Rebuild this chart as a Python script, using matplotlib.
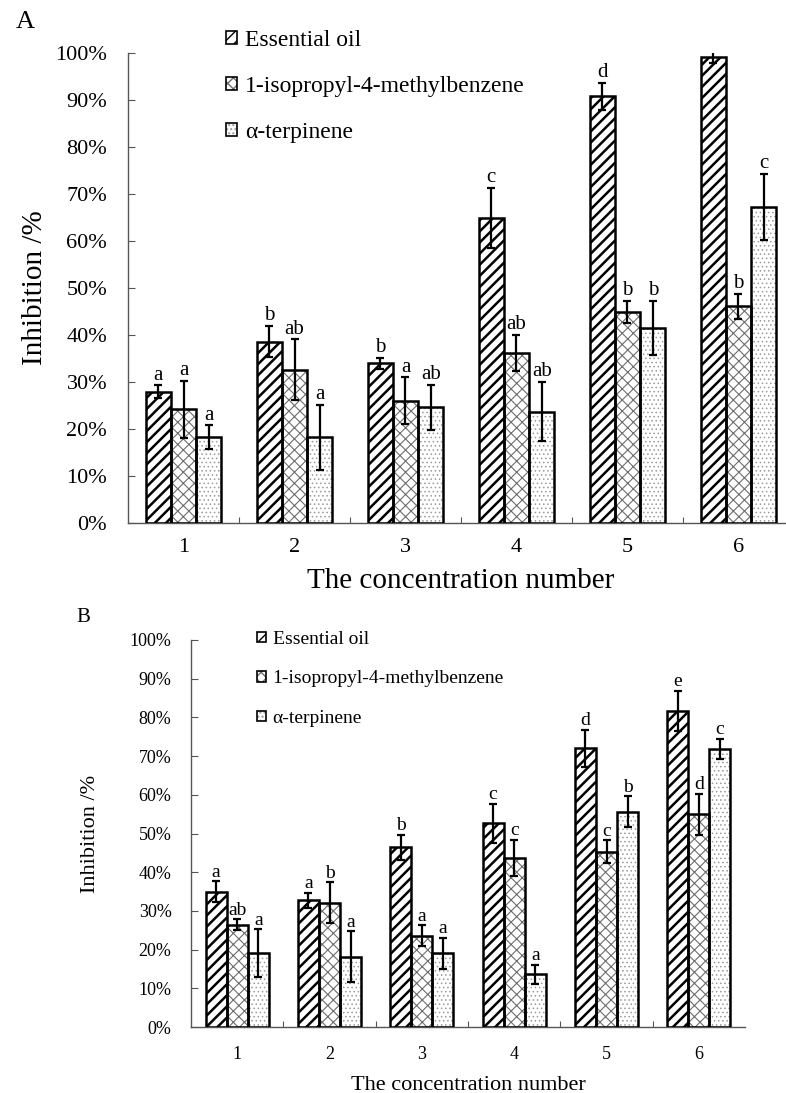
import matplotlib
matplotlib.use('Agg')
import matplotlib.pyplot as plt
from matplotlib.patches import Patch
from matplotlib.ticker import FuncFormatter, FixedLocator
import numpy as np

plt.rcParams['font.family'] = ['Liberation Serif', 'DejaVu Serif']

# data (inhibition %)
conc = ['1', '2', '3', '4', '5', '6']
series = ['Essential oil', '1-isopropyl-4-methylbenzene', u'\u03b1-terpinene']

a_oil = [27.9, 38.6, 34.0, 64.9, 90.8, 99.2]
a_oil_err = [1.4, 3.3, 1.2, 6.4, 2.9, 1.4]
a_iso = [24.2, 32.6, 26.0, 36.2, 44.9, 46.1]
a_iso_err = [6.1, 6.5, 5.0, 3.9, 2.3, 2.6]
a_terp = [18.3, 18.2, 24.6, 23.7, 41.5, 67.3]
a_terp_err = [2.5, 6.9, 4.8, 6.3, 5.8, 7.0]
a_oil_let = ['a', 'b', 'b', 'c', 'd', 'e']
a_iso_let = ['a', 'ab', 'a', 'ab', 'b', 'b']
a_terp_let = ['a', 'a', 'ab', 'ab', 'b', 'c']

b_oil = [34.9, 32.7, 46.4, 52.6, 72.0, 81.7]
b_oil_err = [2.7, 2.0, 3.2, 5.0, 4.7, 5.2]
b_iso = [26.4, 32.1, 23.6, 43.6, 45.3, 55.0]
b_iso_err = [1.4, 5.3, 2.7, 4.7, 2.9, 5.3]
b_terp = [19.0, 18.2, 19.0, 13.6, 55.6, 71.8]
b_terp_err = [6.2, 6.5, 4.1, 2.4, 4.0, 2.6]
b_oil_let = ['a', 'a', 'b', 'c', 'd', 'e']
b_iso_let = ['ab', 'b', 'a', 'c', 'c', 'd']
b_terp_let = ['a', 'a', 'a', 'a', 'b', 'c']

yticks = [0, 10, 20, 30, 40, 50, 60, 70, 80, 90, 100]

# pattern for each series: hatch, hatch colour, hatch line width
styles = [('///', 'black', 1.8), ('xxx', '#6e6e6e', 0.8), ('....', '#9a9a9a', 0.6)]

W, H = 786, 1093
fig = plt.figure(figsize=(W / 100, H / 100), dpi=100)


def ax_rect(left, right, top, bottom):
    return [left / W, 1 - bottom / H, (right - left) / W, (bottom - top) / H]


def draw_panel(ax, vals, errs, lets, fs_tick, fs_lab, fs_let, fs_leg,
               ylab_x, leg_xy, leg_sp, panel, panel_xy, panel_fs, tpad):
    x = np.arange(len(conc))
    w = 0.228
    handles = []
    for i in range(3):
        hatch, hc, hlw = styles[i]
        pos = x + (i - 1) * w
        bars = ax.bar(pos, vals[i], w, color='white', edgecolor=hc,
                      linewidth=0, hatch=hatch, zorder=2)
        for b in bars:
            try:
                b.set_hatch_linewidth(hlw)
            except AttributeError:
                pass
        ax.bar(pos, vals[i], w, fill=False, edgecolor='black',
               linewidth=1.8, zorder=3)
        ax.errorbar(pos, vals[i], yerr=errs[i], fmt='none', ecolor='black',
                    elinewidth=1.6, capsize=3, capthick=1.6, zorder=4)
        for p, v, e, t in zip(pos, vals[i], errs[i], lets[i]):
            ax.annotate(t, (p, v + e), xytext=(0, 0.5), textcoords='offset points',
                        ha='center', va='bottom', fontsize=fs_let, zorder=5)
        fillp = Patch(facecolor='white', edgecolor=hc, linewidth=0, hatch=hatch)
        outl = Patch(fill=False, edgecolor='black', linewidth=1.2)
        handles.append((fillp, outl))

    ax.set_xlim(-0.5, len(conc) - 0.5)
    ax.set_ylim(0, 100)
    ax.set_xticks(x)
    ax.set_xticklabels(conc)
    ax.xaxis.set_minor_locator(FixedLocator(x[:-1] + 0.5))
    ax.set_yticks(yticks)
    ax.yaxis.set_major_formatter(FuncFormatter(lambda v, p: '%d%%' % v))
    for s in ['top', 'right']:
        ax.spines[s].set_visible(False)
    for s in ['left', 'bottom']:
        ax.spines[s].set_color('#555555')
        ax.spines[s].set_linewidth(1.0)
    ax.tick_params(axis='y', direction='in', length=5, width=0.8, color='#555555',
                   labelsize=fs_tick, pad=tpad[0])
    ax.tick_params(axis='x', which='major', length=0, labelsize=fs_tick, pad=tpad[1])
    ax.tick_params(axis='x', which='minor', direction='in', length=4, width=0.8,
                   color='#555555')
    ax.set_xlabel('The concentration number', fontsize=fs_lab, labelpad=tpad[2])
    ax.set_ylabel('Inhibition /%', fontsize=fs_lab)
    ax.yaxis.set_label_coords(ylab_x, 0.5)

    leg = fig.legend(handles, series, loc='upper left',
                     bbox_to_anchor=(leg_xy[0] / W, 1 - leg_xy[1] / H),
                     frameon=False, fontsize=fs_leg, handlelength=0.45,
                     handleheight=0.45, handletextpad=0.35, labelspacing=leg_sp,
                     borderpad=0, borderaxespad=0)
    fig.text(panel_xy[0] / W, 1 - panel_xy[1] / H, panel, fontsize=panel_fs,
             ha='center', va='center')
    return leg


axA = fig.add_axes(ax_rect(128, 794, 53, 523))
draw_panel(axA, [a_oil, a_iso, a_terp], [a_oil_err, a_iso_err, a_terp_err],
           [a_oil_let, a_iso_let, a_terp_let], fs_tick=16, fs_lab=21, fs_let=15,
           fs_leg=17, ylab_x=-0.12, leg_xy=(226, 30), leg_sp=1.05,
           panel='A', panel_xy=(25, 22), panel_fs=19, tpad=(15, 11, 8))

axB = fig.add_axes(ax_rect(191, 745, 640, 1027))
draw_panel(axB, [b_oil, b_iso, b_terp], [b_oil_err, b_iso_err, b_terp_err],
           [b_oil_let, b_iso_let, b_terp_let], fs_tick=13, fs_lab=16, fs_let=14,
           fs_leg=14, ylab_x=-0.165, leg_xy=(257, 631), leg_sp=1.15,
           panel='B', panel_xy=(83, 618), panel_fs=15, tpad=(14, 14, 9))

fig.savefig('out.png', dpi=100)
